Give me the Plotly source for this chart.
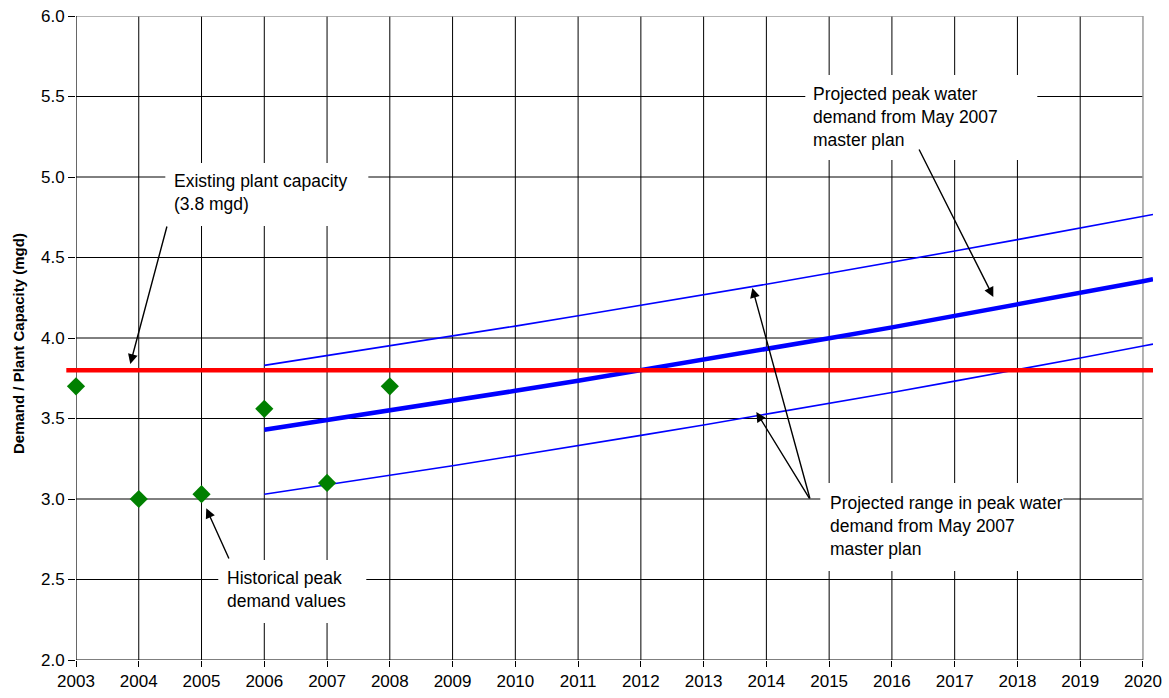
import plotly.graph_objects as go

# Historical peak demand (mgd)
hist_years = [2003, 2004, 2005, 2006, 2007, 2008]
hist_demand = [3.70, 3.00, 3.03, 3.56, 3.10, 3.70]

# Projected peak demand from the May 2007 master plan (mgd)
proj_years = [2006, 2007, 2008, 2009, 2010, 2011, 2012, 2013, 2014,
              2015, 2016, 2017, 2018, 2019, 2020, 2020.16]
proj_mid = [3.430, 3.489, 3.549, 3.610, 3.672, 3.735, 3.799, 3.864, 3.930,
            3.998, 4.066, 4.136, 4.207, 4.279, 4.353, 4.365]
proj_high = [3.830, 3.890, 3.950, 4.012, 4.074, 4.138, 4.202, 4.268, 4.334,
             4.402, 4.470, 4.540, 4.611, 4.682, 4.755, 4.767]
proj_low = [3.030, 3.088, 3.147, 3.207, 3.269, 3.331, 3.395, 3.460, 3.526,
            3.593, 3.662, 3.732, 3.803, 3.876, 3.950, 3.962]

# Existing plant capacity (mgd)
capacity = 3.8

year_ticks = list(range(2003, 2021))
demand_ticks = [2.0, 2.5, 3.0, 3.5, 4.0, 4.5, 5.0, 5.5, 6.0]

FONT = "Liberation Sans, Arial, sans-serif"
X_MIN, X_MAX = 2003, 2020.16
Y_MIN, Y_MAX = 2.0, 6.0

fig = go.Figure()

for vals, width in [(proj_high, 1.6), (proj_low, 1.6), (proj_mid, 4.5)]:
    fig.add_trace(go.Scatter(
        x=proj_years, y=vals, mode="lines",
        line=dict(color="#0000FF", width=width),
        showlegend=False, hoverinfo="skip",
    ))

fig.add_trace(go.Scatter(
    x=hist_years, y=hist_demand, mode="markers",
    marker=dict(symbol="diamond", size=14, color="#008000"),
    cliponaxis=False, showlegend=False,
))

shapes = []
# gridlines
for yr in year_ticks[1:-1]:
    shapes.append(dict(type="line", xref="x", yref="y", x0=yr, x1=yr,
                       y0=Y_MIN, y1=Y_MAX, layer="below",
                       line=dict(color="#000000", width=1)))
for v in demand_ticks[1:-1]:
    shapes.append(dict(type="line", xref="x", yref="y", x0=year_ticks[0],
                       x1=year_ticks[-1], y0=v, y1=v, layer="below",
                       line=dict(color="#000000", width=1)))
# plot frame
shapes.append(dict(type="line", xref="x", yref="y", x0=year_ticks[0],
                   x1=year_ticks[-1], y0=Y_MAX, y1=Y_MAX, layer="below",
                   line=dict(color="#9a9a9a", width=1.5)))
shapes.append(dict(type="line", xref="x", yref="y", x0=year_ticks[-1],
                   x1=year_ticks[-1], y0=Y_MIN, y1=Y_MAX, layer="below",
                   line=dict(color="#9a9a9a", width=1.5)))
shapes.append(dict(type="line", xref="x", yref="y", x0=year_ticks[0],
                   x1=year_ticks[0], y0=Y_MIN, y1=Y_MAX, layer="below",
                   line=dict(color="#000000", width=1.2)))
shapes.append(dict(type="line", xref="x", yref="y", x0=year_ticks[0],
                   x1=year_ticks[-1], y0=Y_MIN, y1=Y_MIN, layer="below",
                   line=dict(color="#000000", width=1.2)))
# plant capacity line
shapes.append(dict(type="line", xref="paper", yref="y", x0=-0.009, x1=1,
                   y0=capacity, y1=capacity, layer="above",
                   line=dict(color="#FF0000", width=4.5)))
# white label boxes
boxes = [
    (2004.423, 5.087, 2004.423 + 203 / 62.76, 5.087 - 63 / 161),
    (2005.267, 2.621, 2005.267 + 148 / 62.76, 2.621 - 63 / 161),
    (2014.620, 5.634, 2014.620 + 232 / 62.76, 5.634 - 85 / 161),
    (2014.859, 3.099, 2014.859 + 243 / 62.76, 3.099 - 88 / 161),
]
for x0, y0, x1, y1 in boxes:
    shapes.append(dict(type="rect", xref="x", yref="y", x0=x0, x1=x1,
                       y0=y1, y1=y0, layer="above",
                       fillcolor="#FFFFFF", line=dict(width=0)))

annotations = []
labels = [
    (2004.535, 4.901, "Existing plant capacity<br>(3.8 mgd)"),
    (2005.380, 2.435, "Historical peak<br>demand values"),
    (2014.715, 5.373, "Projected peak water<br>demand from May 2007<br>master plan"),
    (2014.985, 2.832, "Projected range in peak water<br>demand from May 2007<br>master plan"),
]
for x, y, txt in labels:
    annotations.append(dict(x=x, y=y, xref="x", yref="y", text=txt,
                            showarrow=False, xanchor="left", yanchor="middle",
                            align="left",
                            font=dict(family=FONT, size=17.5, color="#000000")))

arrows = [
    ((2004.455, 4.702), (2003.865, 3.839)),
    ((2005.447, 2.621), (2005.076, 2.942)),
    ((2016.421, 5.180), (2017.616, 4.255)),
    ((2014.700, 2.994), (2013.776, 4.311)),
    ((2014.700, 2.994), (2013.840, 3.540)),
]
for (tx, ty), (hx, hy) in arrows:
    annotations.append(dict(x=hx, y=hy, xref="x", yref="y",
                            ax=tx, ay=ty, axref="x", ayref="y",
                            text="", showarrow=True, arrowhead=2,
                            arrowsize=1.4, arrowwidth=1.4,
                            arrowcolor="#000000"))

annotations.append(dict(
    xref="paper", yref="paper", x=-0.054, y=0.492,
    text="<b>Demand / Plant Capacity (mgd)</b>", textangle=-90,
    showarrow=False, xanchor="center", yanchor="middle",
    font=dict(family=FONT, size=15, color="#000000"),
))

fig.update_layout(
    width=1169, height=698,
    margin=dict(l=76, r=16, t=16, b=38, autoexpand=False),
    paper_bgcolor="#FFFFFF", plot_bgcolor="#FFFFFF",
    font=dict(family=FONT, color="#000000"),
    shapes=shapes, annotations=annotations,
    xaxis=dict(range=[X_MIN, X_MAX], tickmode="array", tickvals=year_ticks,
               ticktext=[str(y) for y in year_ticks], automargin=False,
               showgrid=False, zeroline=False, showline=False,
               ticks="outside", ticklen=6, tickcolor="#000000",
               tickfont=dict(family=FONT, size=17, color="#000000")),
    yaxis=dict(range=[Y_MIN, Y_MAX], tickmode="array", tickvals=demand_ticks,
               ticktext=[f"{v:.1f}" for v in demand_ticks], automargin=False,
               showgrid=False, zeroline=False, showline=False,
               ticks="outside", ticklen=7, tickcolor="#000000",
               tickfont=dict(family=FONT, size=17, color="#000000")),
    hovermode=False,
)

fig.write_html("out.html")
